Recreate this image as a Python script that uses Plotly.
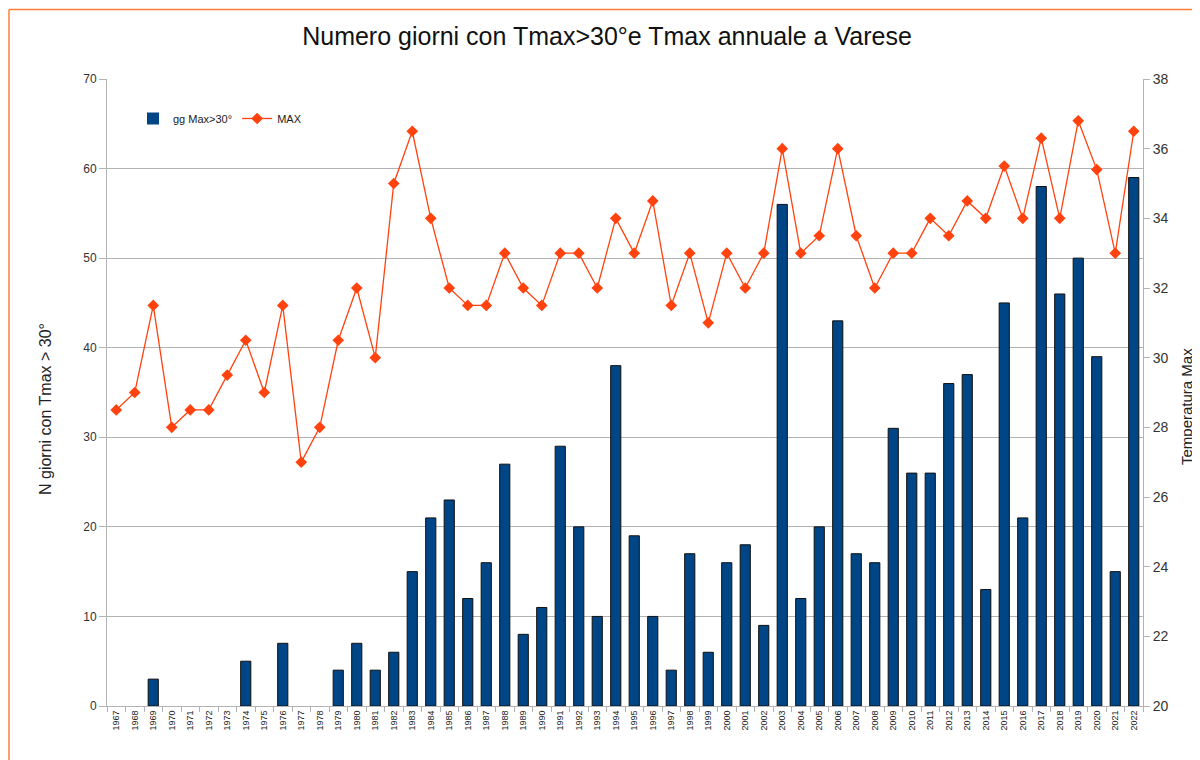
import plotly.graph_objects as go

years = [str(y) for y in range(1967, 2023)]
gg_max30 = [0, 0, 3, 0, 0, 0, 0, 5, 0, 7, 0, 0, 4, 7, 4, 6, 15, 21, 23, 12,
            16, 27, 8, 11, 29, 20, 10, 38, 19, 10, 4, 17, 6, 16, 18, 9, 56, 12, 20, 43,
            17, 16, 31, 26, 26, 36, 37, 13, 45, 21, 58, 46, 50, 39, 15, 59]
tmax = [28.5, 29, 31.5, 28, 28.5, 28.5, 29.5, 30.5, 29, 31.5, 27, 28, 30.5, 32, 30, 35,
        36.5, 34, 32, 31.5, 31.5, 33, 32, 31.5, 33, 33, 32, 34, 33, 34.5, 31.5, 33,
        31, 33, 32, 33, 36, 33, 33.5, 36, 33.5, 32, 33, 33, 34, 33.5, 34.5, 34,
        35.5, 34, 36.3, 34, 36.8, 35.4, 33, 36.5]

# page body has an 8px margin: size the figure to the visible window area
OFF = 8
W, H = 1200 - OFF, 760 - OFF
L, T = 107 - OFF, 79 - OFF
R = W - (1143 - OFF)
B = H - (706 - OFF)
pw, ph = W - L - R, H - T - B

def px(xs):
    return (xs - OFF - L) / pw

def py(ys):
    return (H - B - (ys - OFF)) / ph

fig = go.Figure()
fig.add_trace(go.Bar(
    x=years, y=gg_max30, name="gg Max>30°",
    marker=dict(color="#004586",
                line=dict(color="#111111", width=[1 if v > 0 else 0 for v in gg_max30])),
    width=0.55,
))
fig.add_trace(go.Scatter(
    x=years, y=tmax, name="MAX", yaxis="y2", mode="lines+markers",
    line=dict(color="#ff420e", width=1.3),
    marker=dict(symbol="diamond", size=9, color="#ff420e"),
))

font = "Liberation Sans, Arial, sans-serif"
fig.update_layout(
    width=W, height=H,
    margin=dict(l=L, r=R, t=T, b=B, autoexpand=False),
    paper_bgcolor="white", plot_bgcolor="white",
    font=dict(family=font, color="#333333"),
    title=dict(text="Numero giorni con Tmax>30°e Tmax annuale a Varese",
               x=(607 - OFF) / W, xanchor="center", y=1 - (36 - OFF) / H, yanchor="middle",
               font=dict(size=25, color="#111111", family=font)),
    showlegend=True,
    legend=dict(orientation="h", x=px(133), y=py(104), xanchor="left", yanchor="top",
                bgcolor="rgba(0,0,0,0)", font=dict(size=11, color="#222222"),
                itemwidth=30, traceorder="normal"),
    xaxis=dict(type="category", tickangle=-90, tickfont=dict(size=9, color="#222222"),
               showline=True, linecolor="#b3b3b3", linewidth=1, automargin=False,
               ticks="outside", ticklen=5, tickcolor="#b3b3b3", tickson="boundaries",
               showgrid=False, range=[-0.5, len(years) - 0.5]),
    yaxis=dict(range=[0, 70], dtick=10, showgrid=True, gridcolor="#b3b3b3", gridwidth=1,
               showline=True, linecolor="#b3b3b3", ticks="outside", ticklen=7,
               tickcolor="#b3b3b3", tickfont=dict(size=12, color="#333333"),
               zeroline=False, automargin=False),
    yaxis2=dict(range=[20, 38], dtick=2, overlaying="y", side="right", showgrid=False,
                showline=True, linecolor="#b3b3b3", ticks="outside", ticklen=6,
                tickcolor="#b3b3b3", tickfont=dict(size=14, color="#333333"),
                zeroline=False, automargin=False),
    annotations=[
        dict(text="N giorni con Tmax > 30°", textangle=-90, showarrow=False,
             xref="paper", yref="paper", x=px(45), y=py(409),
             xanchor="center", yanchor="middle", font=dict(size=16, color="#222222")),
        dict(text="Temperatura Max", textangle=-90, showarrow=False,
             xref="paper", yref="paper", x=px(1186), y=py(407),
             xanchor="center", yanchor="middle", font=dict(size=15, color="#222222")),
    ],
    shapes=[
        dict(type="line", xref="paper", yref="paper", x0=px(9), x1=px(1260),
             y0=py(9.5), y1=py(9.5), line=dict(color="#ff7b3a", width=1.5)),
        dict(type="line", xref="paper", yref="paper", x0=px(9), x1=px(9),
             y0=py(9.5), y1=py(800), line=dict(color="#ff7b3a", width=1.5)),
    ],
)

fig.write_html("out.html")
